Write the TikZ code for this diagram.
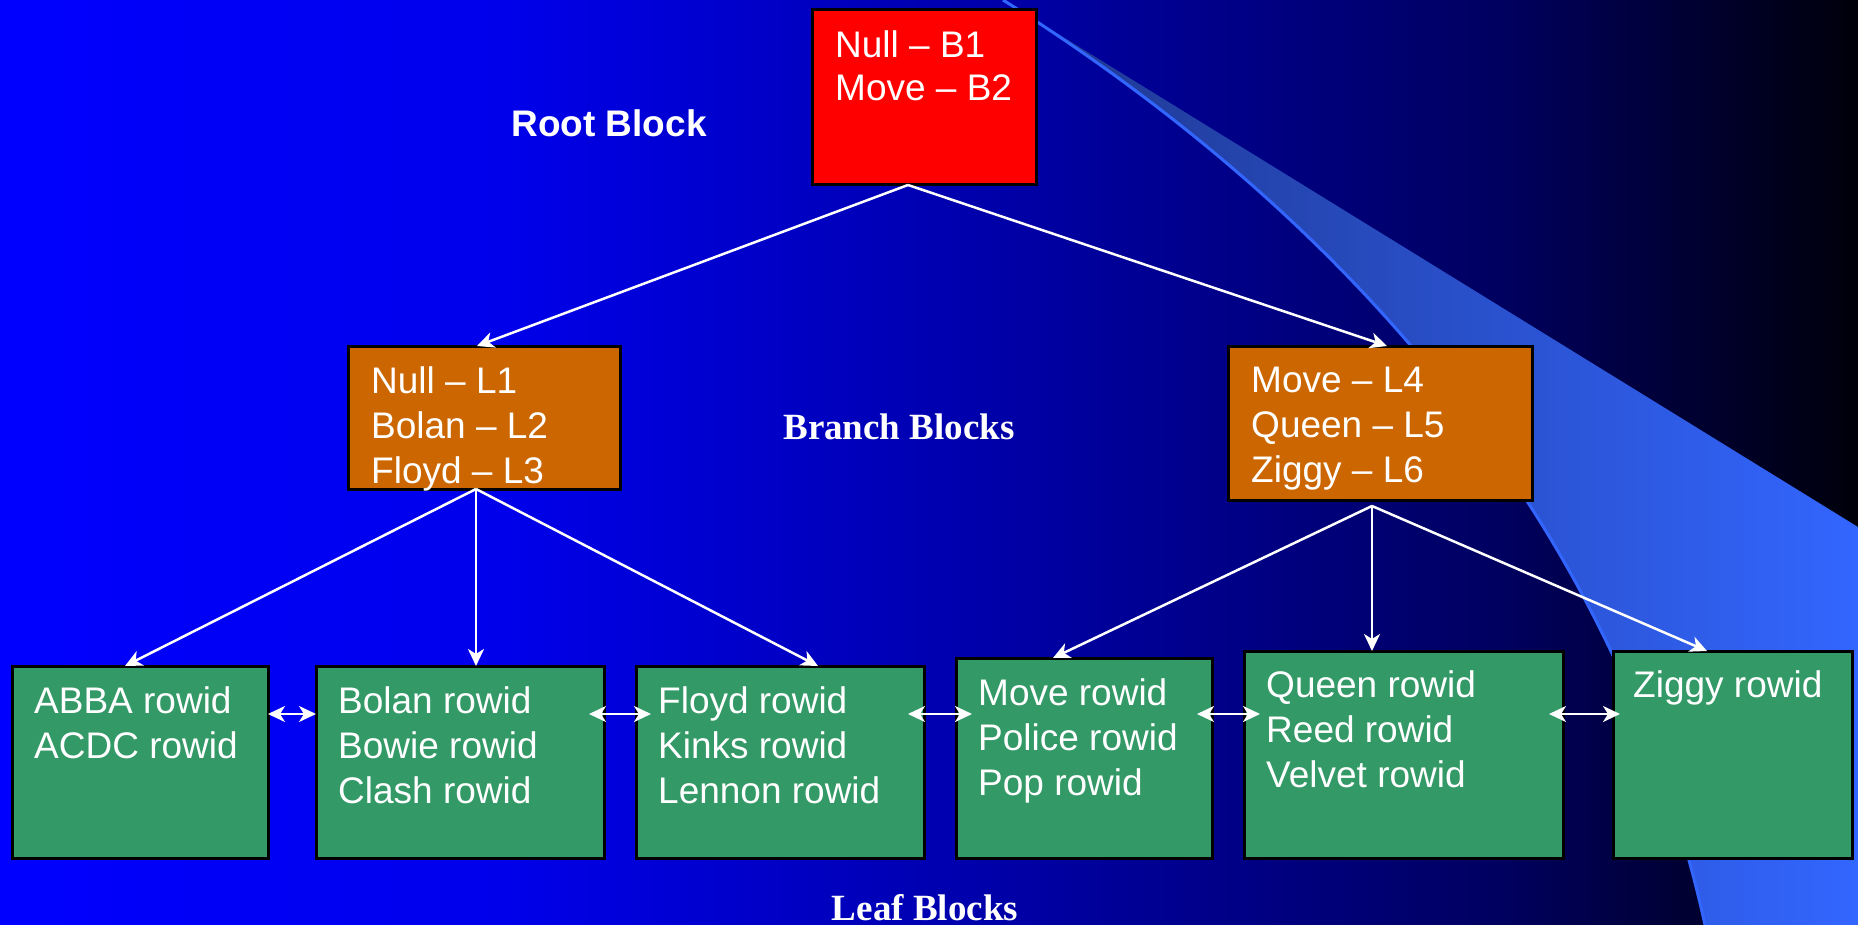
\documentclass[tikz,border=0pt]{standalone}
\usepackage{fontspec}
\setmainfont{Liberation Sans}
\newfontfamily\slideSerif{Liberation Serif}
\usetikzlibrary{arrows.meta}
\definecolor{slideBlue}{RGB}{0,0,255}
\definecolor{slideBlueA}{RGB}{0,0,235}
\definecolor{slideBlueB}{RGB}{0,0,168}
\definecolor{slideBlueC}{RGB}{0,0,96}
\definecolor{slideBlueD}{RGB}{0,0,10}
\definecolor{swooshDark}{RGB}{30,54,140}
\definecolor{swooshLight}{RGB}{51,102,255}
\definecolor{rootRed}{RGB}{255,0,0}
\definecolor{branchOrange}{RGB}{204,102,0}
\definecolor{leafGreen}{RGB}{51,153,102}
\newcommand{\slideText}{\fontsize{37}{45}\selectfont}

\begin{document}
\begin{tikzpicture}[x=1pt,y=-1pt,
  blockbox/.style={draw=black, line width=3pt, anchor=north west, inner sep=0pt, outer sep=0pt},
  blocktext/.style={anchor=north west, align=left, inner sep=0pt, text=white, font=\slideText},
  treearrow/.style={draw=white, line width=2.5pt, -{Stealth[length=17pt,width=16pt,inset=5pt]}},
  linkarrow/.style={draw=white, line width=2.5pt, {Stealth[length=17pt,width=16pt,inset=5pt]}-{Stealth[length=17pt,width=16pt,inset=5pt]}},
  caption/.style={anchor=base, inner sep=0pt, text=white}]
\useasboundingbox (0,0) rectangle (1858,925);
\shade[left color=slideBlue, right color=slideBlueA] (0,0) rectangle (501,925);
\shade[left color=slideBlueA, right color=slideBlueB] (500,0) rectangle (1001,925);
\shade[left color=slideBlueB, right color=slideBlueC] (1000,0) rectangle (1501,925);
\shade[left color=slideBlueC, right color=slideBlueD] (1500,0) rectangle (1858,925);
\shade[left color=swooshDark, right color=swooshLight] (1003,0) .. controls (1377,235) and (1623,552) .. (1705,925) -- (1858,925) -- (1858,527) -- cycle;
\draw[swooshLight, line width=3pt] (1003,0) .. controls (1377,235) and (1623,552) .. (1705,925);

\node[blockbox, fill=rootRed, minimum width=224pt, minimum height=175pt] (root) at (812,10) {};
\node[blockbox, fill=branchOrange, minimum width=272pt, minimum height=143pt] (branchL) at (348,346) {};
\node[blockbox, fill=branchOrange, minimum width=304pt, minimum height=154pt] (branchR) at (1228,346) {};
\node[blockbox, fill=leafGreen, minimum width=256pt, minimum height=192pt] (leafA) at (12,666) {};
\node[blockbox, fill=leafGreen, minimum width=288pt, minimum height=192pt] (leafB) at (316,666) {};
\node[blockbox, fill=leafGreen, minimum width=288pt, minimum height=192pt] (leafC) at (636,666) {};
\node[blockbox, fill=leafGreen, minimum width=256pt, minimum height=200pt] (leafD) at (956,658) {};
\node[blockbox, fill=leafGreen, minimum width=319pt, minimum height=207pt] (leafE) at (1244,651) {};
\node[blockbox, fill=leafGreen, minimum width=239pt, minimum height=207pt] (leafF) at (1613,651) {};

\node[blocktext, font=\fontsize{37}{43}\selectfont] (rootT) at ([shift={(23,20.5)}]root.north west) {Null – B1\\Move – B2};
\node[blocktext] (branchLT) at ([shift={(23,20.5)}]branchL.north west) {Null – L1\\Bolan – L2\\Floyd – L3};
\node[blocktext] (branchRT) at ([shift={(23,20.5)}]branchR.north west) {Move – L4\\Queen – L5\\Ziggy – L6};
\node[blocktext] (leafAT) at ([shift={(22,20.5)}]leafA.north west) {ABBA rowid\\ACDC rowid};
\node[blocktext] (leafBT) at ([shift={(22,20.5)}]leafB.north west) {Bolan rowid\\Bowie rowid\\Clash rowid};
\node[blocktext] (leafCT) at ([shift={(22,20.5)}]leafC.north west) {Floyd rowid\\Kinks rowid\\Lennon rowid};
\node[blocktext] (leafDT) at ([shift={(22,20.5)}]leafD.north west) {Move rowid\\Police rowid\\Pop rowid};
\node[blocktext] (leafET) at ([shift={(22,19.5)}]leafE.north west) {Queen rowid\\Reed rowid\\Velvet rowid};
\node[blocktext] (leafFT) at ([shift={(20,19.5)}]leafF.north west) {Ziggy rowid};

\node[caption, font=\slideText\bfseries] (rootCap) at (609,137) {Root Block};
\node[caption, font=\slideText\slideSerif\bfseries] (branchCap) at (899,439) {Branch Blocks};
\node[caption, font=\slideText\slideSerif\bfseries] (leafCap) at (925,920) {Leaf Blocks};

\draw[treearrow] ([xshift=-16pt]root.south) -- ([xshift=-7pt]branchL.north);
\draw[treearrow] ([xshift=-16pt]root.south) -- ([xshift=7pt]branchR.north);
\draw[treearrow] ([xshift=-8pt]branchL.south) -- ([xshift=-15pt]leafA.north);
\draw[treearrow] ([xshift=-8pt]branchL.south) -- ([xshift=16pt]leafB.north);
\draw[treearrow] ([xshift=-8pt]branchL.south) -- ([xshift=38pt]leafC.north);
\draw[treearrow] ([xshift=-8pt,yshift=-6pt]branchR.south) -- ([xshift=-31pt]leafD.north);
\draw[treearrow] ([xshift=-8pt,yshift=-6pt]branchR.south) -- ([xshift=-31.5pt]leafE.north);
\draw[treearrow] ([xshift=-8pt,yshift=-6pt]branchR.south) -- ([xshift=-25.5pt]leafF.north);

\coordinate (linkrow) at (0,714);
\draw[linkarrow] (leafA.east |- linkrow) -- (leafB.west |- linkrow);
\draw[linkarrow, shorten <=-15pt, shorten >=-15pt] (leafB.east |- linkrow) -- (leafC.west |- linkrow);
\draw[linkarrow, shorten <=-16pt, shorten >=-16pt] (leafC.east |- linkrow) -- (leafD.west |- linkrow);
\draw[linkarrow, shorten <=-15pt, shorten >=-16pt] (leafD.east |- linkrow) -- (leafE.west |- linkrow);
\draw[linkarrow, shorten <=-14pt, shorten >=-7pt] (leafE.east |- linkrow) -- (leafF.west |- linkrow);
\end{tikzpicture}
\end{document}
